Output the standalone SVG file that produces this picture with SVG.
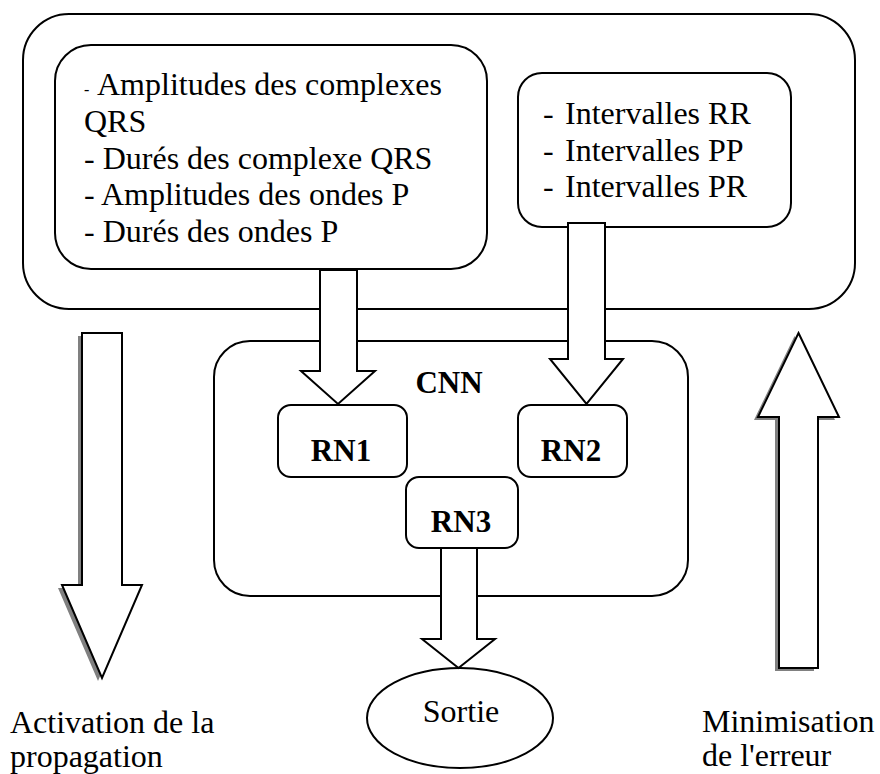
<svg xmlns="http://www.w3.org/2000/svg" width="880" height="774" viewBox="0 0 880 774">
<style>
.box{fill:#fff;stroke:#000;stroke-width:2}
.arr{fill:#fff;stroke:#000;stroke-width:2;stroke-linejoin:miter}
.shd{fill:#808080;stroke:none}
.t{font-family:"Liberation Serif","Times New Roman",serif;font-size:32px;fill:#000}
.b{font-family:"Liberation Serif","Times New Roman",serif;font-size:31px;font-weight:bold;fill:#000;text-anchor:middle}
</style>
<rect width="880" height="774" fill="#fff"/>
<g id="outer">
<rect class="box" x="23" y="14" width="832" height="295" rx="46" ry="46"/>
</g>
<g id="features-left">
<rect class="box" x="55" y="45" width="432" height="224" rx="36" ry="36"/>
<text class="t" y="95"><tspan x="84" font-size="16">-</tspan><tspan x="97">Amplitudes des complexes</tspan></text>
<text class="t" x="84" y="132">QRS</text>
<text class="t" x="84" y="168.5">- Durés des complexe QRS</text>
<text class="t" x="84" y="205">- Amplitudes des ondes P</text>
<text class="t" x="84" y="241.5">- Durés des ondes P</text>
</g>
<g id="features-right">
<rect class="box" x="518" y="73" width="273" height="154" rx="24" ry="24"/>
<text class="t" y="123.5"><tspan x="543">-</tspan><tspan x="565">Intervalles RR</tspan></text>
<text class="t" y="160.5"><tspan x="543">-</tspan><tspan x="565">Intervalles PP</tspan></text>
<text class="t" y="197"><tspan x="543">-</tspan><tspan x="565">Intervalles PR</tspan></text>
</g>
<g id="cnn">
<rect class="box" x="214" y="341" width="474" height="255" rx="36" ry="36"/>
<text class="b" x="449" y="393">CNN</text>
</g>
<g id="rn1">
<rect class="box" x="278" y="405" width="129" height="72" rx="13" ry="13"/>
<text class="b" x="341" y="461">RN1</text>
</g>
<g id="rn2">
<rect class="box" x="518" y="405" width="109" height="72" rx="13" ry="13"/>
<text class="b" x="571" y="461">RN2</text>
</g>
<g id="rn3">
<rect class="box" x="406" y="477" width="112" height="71" rx="13" ry="13"/>
<text class="b" x="461" y="532">RN3</text>
</g>
<g id="sortie">
<ellipse class="box" cx="460" cy="718" rx="93" ry="50"/>
<text class="t" x="461" y="721.5" text-anchor="middle">Sortie</text>
</g>
<g id="label-activation">
<text class="t" x="10" y="733">Activation de la</text>
<text class="t" x="10" y="767">propagation</text>
</g>
<g id="label-minimisation">
<text class="t" x="702" y="732">Minimisation</text>
<text class="t" x="702" y="766">de l'erreur</text>
</g>
<g id="connectors">
<polygon class="arr" points="320,270 357,270 357,371 375,371 338,404 301,371 320,371"/>
<polygon class="arr" points="568,223 605,223 605,359 623,359 586.5,404 550,359 568,359"/>
<polygon class="arr" points="441,548 477,548 477,639 495,639 458.5,668 422,639 441,639"/>
<polygon class="shd" points="78,336 118,336 118,588 138,588 98,681 58,588 78,588"/>
<polygon class="arr" points="82,333 122,333 122,585 142,585 102,678 62,585 82,585"/>
<polygon class="shd" points="794.5,336 835,420 814,420 814,671 775,671 775,420 754,420"/>
<polygon class="arr" points="798.5,333 839,417 818,417 818,668 779,668 779,417 758,417"/>
</g>
</svg>
